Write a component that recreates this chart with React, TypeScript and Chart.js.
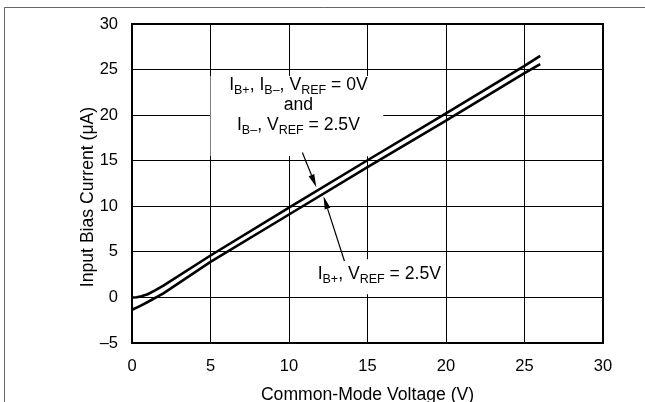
import React, { useEffect, useRef } from "react";
import { Chart, registerables } from "chart.js";

Chart.register(...registerables);

// ---- data ----
const upperX = [0, 0.3, 0.6, 1.0, 1.5, 2, 5, 10, 15, 20, 25, 26];
const upperY = [0, 0.02, 0.12, 0.35, 0.8, 1.3, 4.6, 9.85, 15.05, 20.2, 25.4, 26.5];
const lowerX = [0, 0.5, 1.0, 2, 5, 10, 15, 20, 25, 26];
const lowerY = [-1.35, -0.95, -0.5, 0.45, 3.9, 9.1, 14.3, 19.4, 24.6, 25.6];

const xTicks = [0, 5, 10, 15, 20, 25, 30];
const yTicks = [-5, 0, 5, 10, 15, 20, 25, 30];

const xTitle = "Common-Mode Voltage (V)";
const yTitle = "Input Bias Current (\u03bcA)";

// annotation text: [text, isSubscript]
const noteA1: [string, boolean][] = [["I", false], ["B+", true], [", I", false], ["B\u2013", true], [", V", false], ["REF", true], [" = 0V", false]];
const noteA2: [string, boolean][] = [["and", false]];
const noteA3: [string, boolean][] = [["I", false], ["B\u2013", true], [", V", false], ["REF", true], [" = 2.5V", false]];
const noteB1: [string, boolean][] = [["I", false], ["B+", true], [", V", false], ["REF", true], [" = 2.5V", false]];

// annotation anchors in data units
const noteACenter = [10.6, 22.75]; // x, y of first baseline
const noteBCenter = [15.75, 2.0];
const arrowA = [10.85, 15.9, 11.74, 12.1]; // tail x,y -> tip x,y
const arrowB = [13.53, 4.0, 12.2, 11.1];
const boxA = [5.0, 24.3, 16.0, 15.5]; // x0, y0(top), x1, y1(bottom)
const boxB = [10.7, 4.2, 19.8, 0.35];

const FONT = '"Liberation Sans", Arial, Helvetica, sans-serif';

function drawRich(ctx: CanvasRenderingContext2D, parts: [string, boolean][], cx: number, base: number) {
  const main = `17.6px ${FONT}`;
  const sub = `12.5px ${FONT}`;
  let w = 0;
  for (const [t, s] of parts) {
    ctx.font = s ? sub : main;
    w += ctx.measureText(t).width;
  }
  let x = cx - w / 2;
  ctx.textAlign = "left";
  ctx.textBaseline = "alphabetic";
  ctx.fillStyle = "#000";
  for (const [t, s] of parts) {
    ctx.font = s ? sub : main;
    ctx.fillText(t, x, s ? base + 4 : base);
    x += ctx.measureText(t).width;
  }
}

function drawArrow(ctx: CanvasRenderingContext2D, x0: number, y0: number, x1: number, y1: number) {
  const ang = Math.atan2(y1 - y0, x1 - x0);
  const len = 13;
  const hw = 3;
  const bx = x1 - len * Math.cos(ang);
  const by = y1 - len * Math.sin(ang);
  ctx.strokeStyle = "#000";
  ctx.lineWidth = 1.2;
  ctx.beginPath();
  ctx.moveTo(x0, y0);
  ctx.lineTo(bx, by);
  ctx.stroke();
  ctx.fillStyle = "#000";
  ctx.beginPath();
  ctx.moveTo(x1, y1);
  ctx.lineTo(bx + hw * Math.sin(ang), by - hw * Math.cos(ang));
  ctx.lineTo(bx - hw * Math.sin(ang), by + hw * Math.cos(ang));
  ctx.closePath();
  ctx.fill();
}

const decorPlugin = {
  id: "decor",
  beforeDraw(chart: any) {
    const ctx = chart.ctx as CanvasRenderingContext2D;
    ctx.save();
    ctx.fillStyle = "#fff";
    ctx.fillRect(0, 0, chart.width, chart.height);
    ctx.strokeStyle = "#666";
    ctx.lineWidth = 1;
    ctx.beginPath();
    ctx.moveTo(4.5, chart.height);
    ctx.lineTo(4.5, 7.5);
    ctx.lineTo(chart.width, 7.5);
    ctx.stroke();
    // y-axis title
    ctx.translate(88, 197);
    ctx.rotate(-Math.PI / 2);
    ctx.font = `17.6px ${FONT}`;
    ctx.fillStyle = "#000";
    ctx.textAlign = "center";
    ctx.textBaseline = "middle";
    ctx.fillText(yTitle, 0, 0);
    ctx.restore();
  },
  beforeDatasetsDraw(chart: any) {
    const ctx = chart.ctx as CanvasRenderingContext2D;
    const xs = chart.scales.x;
    const ys = chart.scales.y;
    ctx.save();
    ctx.fillStyle = "#fff";
    for (const b of [boxA, boxB]) {
      const x0 = xs.getPixelForValue(b[0]);
      const x1 = xs.getPixelForValue(b[2]);
      const y0 = ys.getPixelForValue(b[1]);
      const y1 = ys.getPixelForValue(b[3]);
      ctx.fillRect(x0, y0, x1 - x0, y1 - y0);
    }
    ctx.restore();
  },
  afterDatasetsDraw(chart: any) {
    const ctx = chart.ctx as CanvasRenderingContext2D;
    const xs = chart.scales.x;
    const ys = chart.scales.y;
    const a = chart.chartArea;
    ctx.save();
    ctx.strokeStyle = "#000";
    ctx.lineWidth = 2;
    ctx.strokeRect(a.left, a.top, a.right - a.left, a.bottom - a.top);

    const ax = xs.getPixelForValue(noteACenter[0]);
    const ay = ys.getPixelForValue(noteACenter[1]);
    drawRich(ctx, noteA1, ax, ay);
    drawRich(ctx, noteA2, ax, ay + 19.5);
    drawRich(ctx, noteA3, ax, ay + 40);
    drawRich(ctx, noteB1, xs.getPixelForValue(noteBCenter[0]), ys.getPixelForValue(noteBCenter[1]));

    for (const ar of [arrowA, arrowB]) {
      drawArrow(
        ctx,
        xs.getPixelForValue(ar[0]),
        ys.getPixelForValue(ar[1]),
        xs.getPixelForValue(ar[2]),
        ys.getPixelForValue(ar[3])
      );
    }
    ctx.restore();
  },
};

export default function App() {
  const ref = useRef<HTMLCanvasElement | null>(null);
  useEffect(() => {
    document.body.style.margin = "0";
    if (!ref.current) return;
    const chart = new Chart(ref.current, {
      type: "scatter",
      data: {
        datasets: [
          {
            data: upperX.map((x, i) => ({ x, y: upperY[i] })),
            showLine: true,
            borderColor: "#000",
            borderWidth: 2.6,
            pointRadius: 0,
            tension: 0,
          },
          {
            data: lowerX.map((x, i) => ({ x, y: lowerY[i] })),
            showLine: true,
            borderColor: "#000",
            borderWidth: 2.6,
            pointRadius: 0,
            tension: 0,
          },
        ],
      },
      options: {
        responsive: false,
        animation: false,
        devicePixelRatio: 1,
        layout: { padding: { left: 0, top: 24, right: 42, bottom: 0 } },
        plugins: { legend: { display: false }, tooltip: { enabled: false } },
        scales: {
          x: {
            type: "linear",
            min: 0,
            max: 30,
            afterBuildTicks: (s: any) => {
              s.ticks = xTicks.map((v) => ({ value: v }));
            },
            ticks: { color: "#000", font: { family: FONT, size: 16.5 }, padding: 14, maxRotation: 0 },
            grid: { color: "#000", lineWidth: 1, drawTicks: false },
            border: { color: "#000", width: 2 },
            title: {
              display: true,
              text: xTitle,
              color: "#000",
              font: { family: FONT, size: 17.6, lineHeight: 1 },
              padding: { top: 0, bottom: -1.5 },
            },
            afterFit: (s: any) => {
              s.height = 59;
            },
          },
          y: {
            type: "linear",
            min: -5,
            max: 30,
            afterBuildTicks: (s: any) => {
              s.ticks = yTicks.map((v) => ({ value: v }));
            },
            ticks: {
              color: "#000",
              font: { family: FONT, size: 16.5 },
              padding: 14,
              callback: (v: any) => (Number(v) < 0 ? "\u2013" + Math.abs(Number(v)) : String(v)),
            },
            grid: { color: "#000", lineWidth: 1, drawTicks: false },
            border: { color: "#000", width: 2 },
            title: { display: false },
            afterFit: (s: any) => {
              s.width = 132;
            },
          },
        },
      },
      plugins: [decorPlugin],
    } as any);
    return () => chart.destroy();
  }, []);
  return <canvas ref={ref} width={645} height={402} style={{ display: "block" }} />;
}
